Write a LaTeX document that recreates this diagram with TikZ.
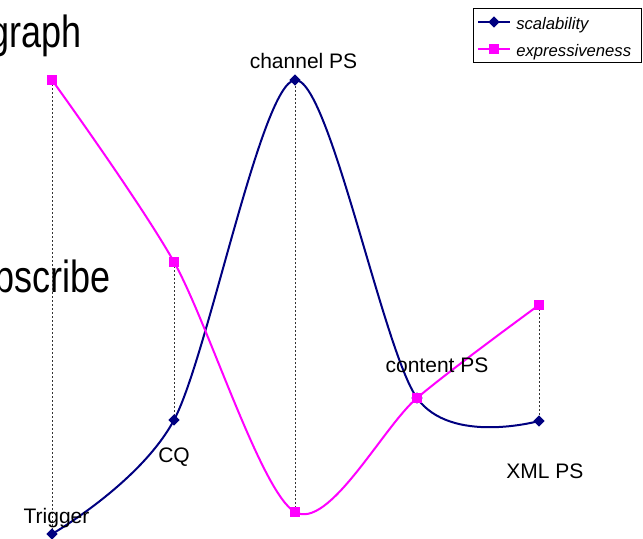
\documentclass[tikz,border=0pt]{standalone}
\usepackage{fontspec}
\setmainfont{Liberation Sans}
\usetikzlibrary{shapes.geometric}
\definecolor{scalblue}{RGB}{0,0,128}
\definecolor{exprpink}{RGB}{255,0,255}
\newcommand{\tallword}[1]{\scalebox{1}[1.25]{#1}}
\begin{document}
\begin{tikzpicture}[x=0.75pt,y=-0.75pt]
\tikzstyle{every node} = [inner sep=0];
\tikzstyle{scal} = [color=scalblue, line width=1.5];
\tikzstyle{expr} = [color=exprpink, line width=1.5];
\tikzstyle{sdot} = [diamond, fill=scalblue, minimum size=8.5];
\tikzstyle{edot} = [rectangle, fill=exprpink, minimum size=8];
\tikzstyle{drop} = [dash pattern=on 1.5pt off 1.5pt, line width=0.6, color=black!80];
\tikzstyle{lbl} = [font=\fontsize{15.75}{18}\selectfont, anchor=base];
\tikzstyle{big} = [font=\fontsize{27}{31}\selectfont, anchor=base west];
\useasboundingbox (0,0) rectangle (643,539);
% cut-off slide text behind the chart
\node[big] (title) at (-11,47) {\tallword{graph}};
\node[big] (sub) at (-6,292) {\tallword{bscribe}};
% data points: name / x / scalability / expressiveness
\foreach \n/\x/\ys/\ye in {trig/52/534/80, cq/174/420/262, chan/295/80/512, cont/417/398/398, xml/539/421/305}{
	\coordinate (s-\n) at (\x,\ys);
	\coordinate (e-\n) at (\x,\ye);
}
\foreach \n in {trig, cq, chan, xml}{
	\draw [drop] (e-\n) -- (s-\n);
}
\draw [scal] plot[smooth] coordinates {(s-trig) (s-cq) (s-chan) (s-cont) (s-xml)};
\foreach \n in {trig, cq, chan, cont, xml}{
	\node [sdot] (sd-\n) at (s-\n) {};
}
\draw [expr] plot[smooth] coordinates {(e-trig) (e-cq) (e-chan) (e-cont) (e-xml)};
\foreach \n in {trig, cq, chan, cont, xml}{
	\node [edot] (ed-\n) at (e-\n) {};
}
% point labels
\node [lbl] (l-trig) at (56.5,523) {Trigger};
\node [lbl] (l-cq) at (174,462) {CQ};
\node [lbl] (l-chan) at (303.5,68) {channel PS};
\node [lbl] (l-cont) at (437,372) {content PS};
\node [lbl] (l-xml) at (545,478) {XML PS};
% legend
\node [draw, line width=0.6, minimum width=168*0.75pt, minimum height=54*0.75pt, anchor=north west] (legend) at (473,8) {};
\coordinate (k1a) at (478,22); \coordinate (k1b) at (510,22);
\coordinate (k2a) at (478,49); \coordinate (k2b) at (510,49);
\draw [scal] (k1a) -- (k1b);
\node [sdot] (ks) at (494,22) {};
\draw [expr] (k2a) -- (k2b);
\node [edot] (ke) at (494,49) {};
\node [font=\fontsize{12.5}{14}\itshape, anchor=base west] (t-scal) at (516,29) {scalability};
\node [font=\fontsize{12.5}{14}\itshape, anchor=base west] (t-expr) at (516,56) {expressiveness};
\end{tikzpicture}
\end{document}
